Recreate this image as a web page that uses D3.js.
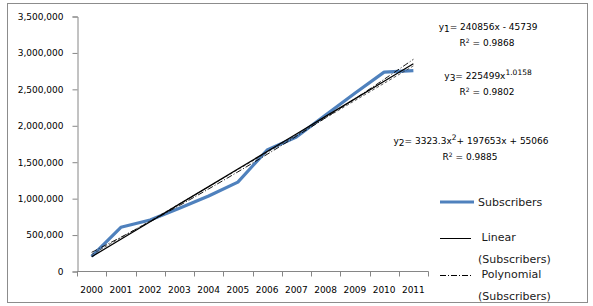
<!DOCTYPE html>
<html>
<head>
<meta charset="utf-8">
<script src="https://cdn.jsdelivr.net/npm/d3@7"></script>
<style>
  body { margin: 0; background: #fff; }
  svg text { font-family: "DejaVu Sans", Verdana, sans-serif; }
</style>
</head>
<body>
<div id="chart"></div>
<script>
const years = ["2000", "2001", "2002", "2003", "2004", "2005", "2006", "2007", "2008", "2009", "2010", "2011"];
const subscribers = [200000, 600000, 700000, 860000, 1030000, 1220000, 1660000, 1840000, 2140000, 2440000, 2730000, 2750000];
const yTicks = [0, 500000, 1000000, 1500000, 2000000, 2500000, 3000000, 3500000];

// trendline coefficients as printed on the chart
const linearCoef = [240856, -45739];        // y1 = a*x + b
const polyCoef = [3323.3, 197653, 55066];   // y2 = a*x^2 + b*x + c
const powerCoef = [225499, 1.0158];         // y3 = a*x^b

const equations = [
  { lines: ["y|1|= 240856x - 45739", "R2 = 0.9868"], x: 488, y: 27 },
  { lines: ["y|3|= 225499x^1.0158", "R2 = 0.9802"], x: 488, y: 76 },
  { lines: ["y|2|= 3323.3x^2+ 197653x + 55066", "R2 = 0.9885"], x: 471, y: 141 }
];

const W = 593, H = 306;
const svg = d3.select("#chart").append("svg").attr("width", W).attr("height", H);

// outer frame
svg.append("rect")
  .attr("x", 7.5).attr("y", 3.5)
  .attr("width", 580).attr("height", 299)
  .attr("fill", "#fff").attr("stroke", "#8c8c8c");

const xScale = d3.scaleBand().domain(years).range([77, 428]).paddingInner(0).paddingOuter(0);
const yScale = d3.scaleLinear().domain([0, 3500000]).range([271, 16]);
const cx = (i) => xScale(years[i]) + xScale.bandwidth() / 2;

// axes
const yAxis = d3.axisLeft(yScale).tickValues(yTicks).tickSize(5).tickPadding(9)
  .tickFormat(d3.format(","));
const gy = svg.append("g").attr("transform", "translate(77.5,0.5)").call(yAxis);
gy.select(".domain").attr("stroke", "#868686");
gy.selectAll(".tick line").attr("stroke", "#868686");
gy.selectAll(".tick text").attr("font-size", 9).attr("fill", "#000")
  .attr("font-family", "DejaVu Sans");

const gx = svg.append("g").attr("transform", "translate(0,271.5)");
gx.append("line").attr("x1", 77).attr("x2", 428.5).attr("stroke", "#868686");
gx.selectAll(".tk").data(years.concat(["end"])).join("line")
  .attr("class", "tk")
  .attr("x1", (d, i) => Math.round(77 + i * xScale.bandwidth()) + 0.5)
  .attr("x2", (d, i) => Math.round(77 + i * xScale.bandwidth()) + 0.5)
  .attr("y1", 0).attr("y2", 5).attr("stroke", "#868686");
gx.selectAll(".lbl").data(years).join("text")
  .attr("class", "lbl")
  .attr("x", (d, i) => cx(i))
  .attr("y", 21)
  .attr("text-anchor", "middle")
  .attr("font-size", 9)
  .text((d) => d);

// data line
const line = d3.line().x((d, i) => cx(i)).y((d) => yScale(d));
svg.append("path").datum(subscribers)
  .attr("d", line).attr("fill", "none")
  .attr("stroke", "#4f81bd").attr("stroke-width", 3.2)
  .attr("stroke-linejoin", "round");

// trendlines evaluated at each category (x = 1..12)
const xs = years.map((d, i) => i + 1);
const linVals = xs.map((x) => linearCoef[0] * x + linearCoef[1]);
const polyVals = xs.map((x) => polyCoef[0] * x * x + polyCoef[1] * x + polyCoef[2]);
const powVals = xs.map((x) => powerCoef[0] * Math.pow(x, powerCoef[1]));
const smooth = d3.line().x((d, i) => cx(i)).y((d) => yScale(d)).curve(d3.curveCatmullRom);

svg.append("path").datum(powVals).attr("d", smooth).attr("fill", "none")
  .attr("stroke", "#333").attr("stroke-width", 0.8).attr("stroke-dasharray", "3,2");
svg.append("path").datum(polyVals).attr("d", smooth).attr("fill", "none")
  .attr("stroke", "#000").attr("stroke-width", 0.9).attr("stroke-dasharray", "6,2,1,2");
svg.append("path").datum(linVals).attr("d", line).attr("fill", "none")
  .attr("stroke", "#000").attr("stroke-width", 1.3);

// equation labels
function writeEq(g, str, x, y) {
  const t = g.append("text").attr("x", x).attr("y", y).attr("text-anchor", "middle")
    .attr("font-size", 9).attr("fill", "#000");
  if (str.startsWith("R2")) {
    t.append("tspan").text("R");
    t.append("tspan").attr("dy", -3).attr("font-size", 6).text("2");
    t.append("tspan").attr("dy", 3).text(str.slice(2));
    return;
  }
  const parts = str.split("|");
  t.append("tspan").text(parts[0]);
  t.append("tspan").attr("dy", 2).attr("font-size", 9).text(parts[1]);
  let rest = parts[2];
  const sup = rest.indexOf("^");
  if (sup < 0) { t.append("tspan").attr("dy", -2).text(rest); return; }
  const before = rest.slice(0, sup);
  const m = rest.slice(sup + 1).match(/^([0-9.]+)(.*)$/);
  t.append("tspan").attr("dy", -2).text(before);
  t.append("tspan").attr("dy", -4).attr("font-size", 7.5).text(m[1]);
  t.append("tspan").attr("dy", 4).text(m[2]);
}
equations.forEach((eq) => {
  const g = svg.append("g");
  writeEq(g, eq.lines[0], eq.x, eq.y + 3);
  writeEq(g, eq.lines[1], eq.x - 1, eq.y + 19);
});

// legend
const legendItems = [
  { name: ["Subscribers"], color: "#4f81bd", width: 3, dash: null, y: 202 },
  { name: [" Linear", "(Subscribers)"], color: "#000", width: 1, dash: null, y: 238.5 },
  { name: [" Polynomial", "(Subscribers)"], color: "#000", width: 1, dash: "6,2,1,2", y: 275.5 }
];
const lg = svg.append("g");
legendItems.forEach((it) => {
  lg.append("line").attr("x1", 440).attr("x2", it.color === "#4f81bd" ? 474 : 471)
    .attr("y1", it.y).attr("y2", it.y)
    .attr("stroke", it.color).attr("stroke-width", it.width)
    .attr("stroke-dasharray", it.dash);
  it.name.forEach((n, k) => {
    lg.append("text").attr("x", 478).attr("y", Math.round(it.y) + 4 - (k === 0 && it.name.length > 1 ? 2 : 0) + k * 20)
      .attr("font-family", "Open Sans").attr("font-size", 11)
      .attr("fill", "#1a1a1a").attr("xml:space", "preserve").text(n);
  });
});
</script>
</body>
</html>
